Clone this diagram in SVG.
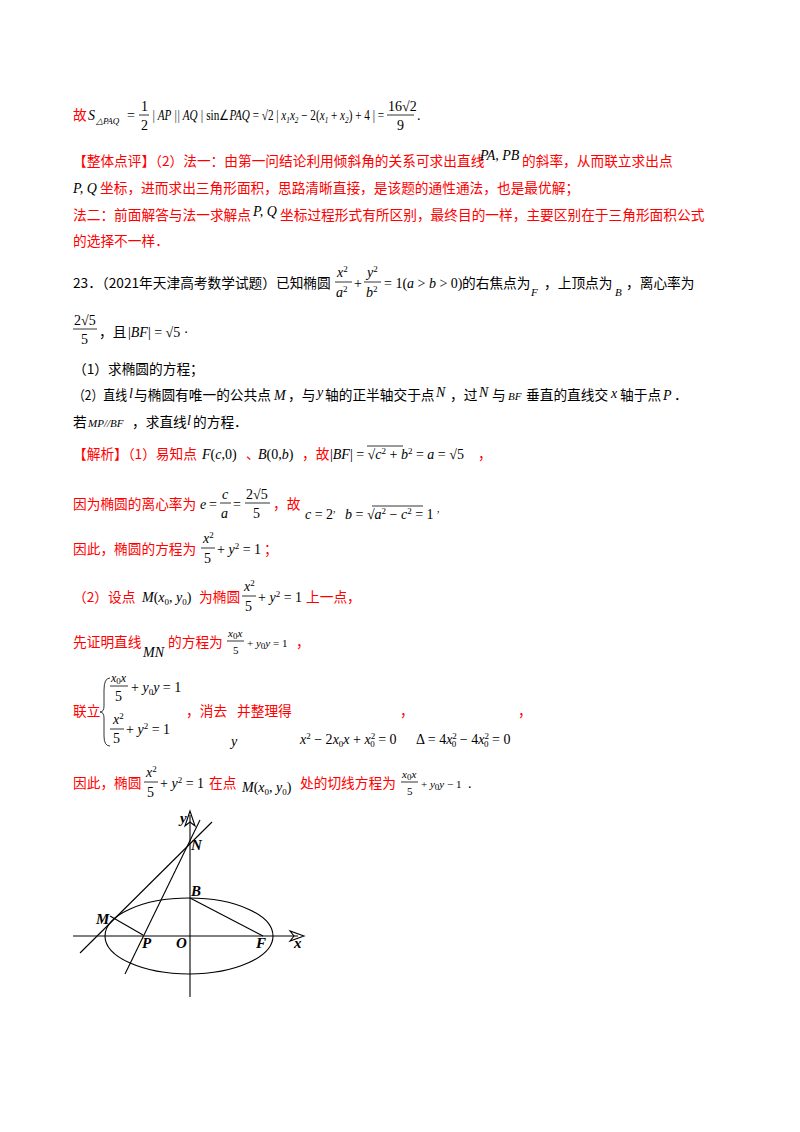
<svg xmlns="http://www.w3.org/2000/svg" width="800" height="1132" viewBox="0 0 800 1132">
<style>
text{font-family:"Noto Sans CJK SC","Liberation Serif",sans-serif;font-size:13.7px;fill:#000}
.r{fill:#ff0000}
.m{font-family:"Liberation Serif",serif;font-style:italic;font-size:14px}
.n{font-family:"Liberation Serif",serif;font-style:normal;font-size:14px}
.s{font-size:9px}
.fl{stroke:#000;stroke-width:0.8}
.g line,.g path,.g ellipse{stroke:#000;stroke-width:1.1;fill:none}
.lb{font-family:"Liberation Serif",serif;font-weight:bold;font-style:italic;font-size:15px}
</style>
<rect width="800" height="1132" fill="#fff"/>
<g id="text">
<text x="73" y="120" class="r">故</text>
<text x="88" y="120" class="m">S</text><text x="96" y="124" class="m s">△PAQ</text>
<text x="127" y="120" class="n">=</text>
<text x="141" y="111" class="n">1</text><line class="fl" x1="139" y1="115" x2="149" y2="115"/><text x="141" y="130" class="n">2</text>
<text x="152" y="120" class="m" textLength="232" lengthAdjust="spacingAndGlyphs">| AP || AQ | <tspan class="n">sin∠</tspan>PAQ <tspan class="n">= √2 |</tspan> x<tspan class="s" dy="3">1</tspan><tspan dy="-3">x</tspan><tspan class="s" dy="3">2</tspan><tspan class="n" dy="-3"> − 2(</tspan>x<tspan class="s" dy="3">1</tspan><tspan class="n" dy="-3"> + </tspan>x<tspan class="s" dy="3">2</tspan><tspan class="n" dy="-3">) + 4 | =</tspan></text>
<text x="388" y="111" class="n">16√2</text><line class="fl" x1="387" y1="115" x2="414" y2="115"/><text x="397" y="130" class="n">9</text>
<text x="417" y="120" class="n">.</text>
<text x="73" y="166" class="r">【整体点评】（2）法一：由第一问结论利用倾斜角的关系可求出直线</text>
<text x="480" y="160" class="m">PA, PB</text>
<text x="522" y="166" class="r">的斜率，从而联立求出点</text>
<text x="73" y="193" class="m">P, Q</text>
<text x="100" y="193" class="r">坐标，进而求出三角形面积，思路清晰直接，是该题的通性通法，也是最优解；</text>
<text x="73" y="220" class="r">法二：前面解答与法一求解点</text>
<text x="253" y="216" class="m">P, Q</text>
<text x="280" y="220" class="r">坐标过程形式有所区别，最终目的一样，主要区别在于三角形面积公式</text>
<text x="73" y="246" class="r">的选择不一样．</text>
<text x="73" y="288">23．（2021年天津高考数学试题）已知椭圆</text>
<text x="337" y="277" class="m">x<tspan class="s n" dy="-5">2</tspan></text><line class="fl" x1="335" y1="282" x2="352" y2="282"/><text x="336" y="297" class="m">a<tspan class="s n" dy="-5">2</tspan></text>
<text x="354" y="288" class="n">+</text>
<text x="367" y="277" class="m">y<tspan class="s n" dy="-5">2</tspan></text><line class="fl" x1="364" y1="282" x2="381" y2="282"/><text x="366" y="297" class="m">b<tspan class="s n" dy="-5">2</tspan></text>
<text x="384" y="288" class="n">= 1(<tspan class="m">a</tspan> &gt; <tspan class="m">b</tspan> &gt; 0)</text>
<text x="462" y="288">的右焦点为</text>
<text x="531" y="296" class="m" style="font-size:11px">F</text>
<text x="544" y="288">，上顶点为</text>
<text x="615" y="296" class="m" style="font-size:11px">B</text>
<text x="626" y="288">，离心率为</text>
<text x="74" y="325" class="n">2√5</text><line class="fl" x1="73" y1="329" x2="97" y2="329"/><text x="81" y="344" class="n">5</text>
<text x="99" y="337">，且</text>
<text x="128" y="337" class="n">|<tspan class="m">BF</tspan>| = √5 ·</text>
<text x="73" y="374">（1）求椭圆的方程；</text>
<text x="73" y="400" textLength="54" lengthAdjust="spacingAndGlyphs">（2）直线</text><text x="129" y="398" class="m">l</text><text x="134" y="400">与椭圆有唯一的公共点</text><text x="274" y="400" class="m">M</text><text x="288" y="400">，与</text><text x="317" y="397" class="m">y</text><text x="325" y="400">轴的正半轴交于点</text><text x="436" y="397" class="m">N</text><text x="450" y="400">，过</text><text x="479" y="397" class="m">N</text><text x="492" y="400">与</text><text x="508" y="400" class="m" style="font-size:11px">BF</text><text x="526" y="400">垂直的直线交</text><text x="611" y="398" class="m">x</text><text x="620" y="400">轴于点</text><text x="663" y="400" class="m">P</text><text x="674" y="400">．</text>
<text x="73" y="427">若</text><text x="88" y="427" class="m" style="font-size:11px">MP//BF</text><text x="132" y="427">，求直线</text><text x="187" y="425" class="m">l</text><text x="193" y="427">的方程．</text>
<text x="73" y="459" class="r">【解析】（1）易知点</text>
<text x="202" y="459" class="m">F<tspan class="n">(</tspan>c<tspan class="n">,0)</tspan></text>
<text x="246" y="459" class="r">、</text>
<text x="258" y="459" class="m">B<tspan class="n">(0,</tspan>b<tspan class="n">)</tspan></text>
<text x="302" y="459" class="r">，故</text>
<text x="330" y="459" class="n">|<tspan class="m">BF</tspan>| = √<tspan class="m">c</tspan><tspan class="s" dy="-5">2</tspan><tspan dy="5"> + </tspan><tspan class="m">b</tspan><tspan class="s" dy="-5">2</tspan><tspan dy="5"> = </tspan><tspan class="m">a</tspan> = √5</text>
<line class="fl" x1="367" y1="446" x2="403" y2="446"/>
<text x="478" y="459" class="r">，</text>
<text x="73" y="509" class="r">因为椭圆的离心率为</text>
<text x="200" y="509" class="m">e</text><text x="209" y="509" class="n">=</text>
<text x="222" y="499" class="m">c</text><line class="fl" x1="220" y1="503" x2="231" y2="503"/><text x="221" y="518" class="m">a</text>
<text x="233" y="509" class="n">=</text>
<text x="246" y="499" class="n">2√5</text><line class="fl" x1="245" y1="503" x2="270" y2="503"/><text x="253" y="518" class="n">5</text>
<text x="273" y="509" class="r">，故</text>
<text x="305" y="519" class="m">c<tspan class="n"> = 2</tspan></text><text x="333" y="512" class="n" style="font-size:10px">,</text>
<text x="345" y="519" class="m">b<tspan class="n"> = √</tspan>a<tspan class="n s" dy="-5">2</tspan><tspan class="n" dy="5"> − </tspan>c<tspan class="n s" dy="-5">2</tspan><tspan class="n" dy="5"> = 1</tspan></text>
<line class="fl" x1="372" y1="506" x2="423" y2="506"/>
<text x="437" y="512" class="n" style="font-size:10px">,</text>
<text x="73" y="554" class="r">因此，椭圆的方程为</text>
<text x="203" y="543" class="m">x<tspan class="s n" dy="-5">2</tspan></text><line class="fl" x1="201" y1="548" x2="215" y2="548"/><text x="204" y="563" class="n">5</text>
<text x="217" y="554" class="n">+ <tspan class="m">y</tspan><tspan class="s" dy="-5">2</tspan><tspan dy="5"> = 1</tspan></text>
<text x="264" y="554" class="r">；</text>
<text x="73" y="602" class="r">（2）设点</text>
<text x="142" y="602" class="m">M<tspan class="n">(</tspan>x<tspan class="n s" dy="3">0</tspan><tspan class="n" dy="-3">, </tspan>y<tspan class="n s" dy="3">0</tspan><tspan class="n" dy="-3">)</tspan></text>
<text x="199" y="602" class="r">为椭圆</text>
<text x="244" y="591" class="m">x<tspan class="s n" dy="-5">2</tspan></text><line class="fl" x1="242" y1="596" x2="256" y2="596"/><text x="245" y="611" class="n">5</text>
<text x="258" y="602" class="n">+ <tspan class="m">y</tspan><tspan class="s" dy="-5">2</tspan><tspan dy="5"> = 1</tspan></text>
<text x="306" y="602" class="r">上一点，</text>
<text x="73" y="647" class="r">先证明直线</text>
<text x="143" y="657" class="m">MN</text>
<text x="168" y="647" class="r">的方程为</text>
<text x="228" y="637" class="m" style="font-size:11px">x<tspan class="n s" dy="2">0</tspan><tspan dy="-2">x</tspan></text><line class="fl" x1="227" y1="641" x2="244" y2="641"/><text x="233" y="654" class="n" style="font-size:11px">5</text>
<text x="247" y="647" class="m" style="font-size:11px"><tspan class="n" style="font-size:11px">+ </tspan>y<tspan class="n s" dy="2">0</tspan><tspan dy="-2">y</tspan><tspan class="n" style="font-size:11px"> = 1</tspan></text>
<text x="296" y="647" class="r">，</text>
<text x="73" y="716" class="r">联立</text>
<path d="M110,678 Q104,678 104,690 L104,706 Q104,712 100,712 Q104,712 104,718 L104,736 Q104,746 110,746" fill="none" stroke="#000" stroke-width="0.8"/>
<text x="111" y="682" class="m" style="font-size:12px">x<tspan class="n s" dy="2">0</tspan><tspan dy="-2">x</tspan></text><line class="fl" x1="110" y1="686" x2="128" y2="686"/><text x="115" y="701" class="n">5</text>
<text x="131" y="692" class="n">+ <tspan class="m">y</tspan><tspan class="s" dy="3">0</tspan><tspan class="m" dy="-3">y</tspan> = 1</text>
<text x="113" y="724" class="m">x<tspan class="s n" dy="-5">2</tspan></text><line class="fl" x1="110" y1="729" x2="124" y2="729"/><text x="113" y="743" class="n">5</text>
<text x="126" y="734" class="n">+ <tspan class="m">y</tspan><tspan class="s" dy="-5">2</tspan><tspan dy="5"> = 1</tspan></text>
<text x="186" y="716" class="r">，消去</text><text x="237" y="716" class="r">并整理得</text>
<text x="400" y="716" class="r">，</text><text x="518" y="716" class="r">，</text>
<text x="231" y="746" class="m">y</text>
<text x="300" y="744" class="m">x<tspan class="n s" dy="-5">2</tspan><tspan class="n" dy="5"> − 2</tspan>x<tspan class="n s" dy="3">0</tspan><tspan dy="-3">x</tspan><tspan class="n"> + </tspan>x<tspan class="n s" dy="-5">2</tspan><tspan class="n s" dx="-5" dy="8">0</tspan><tspan class="n" dy="-3"> = 0</tspan></text>
<text x="416" y="744" class="n">Δ = 4<tspan class="m">x</tspan><tspan class="s" dy="-5">2</tspan><tspan class="s" dx="-5" dy="8">0</tspan><tspan dy="-3"> − 4</tspan><tspan class="m">x</tspan><tspan class="s" dy="-5">2</tspan><tspan class="s" dx="-5" dy="8">0</tspan><tspan dy="-3"> = 0</tspan></text>
<text x="73" y="788" class="r">因此，椭圆</text>
<text x="146" y="777" class="m">x<tspan class="s n" dy="-5">2</tspan></text><line class="fl" x1="144" y1="782" x2="158" y2="782"/><text x="147" y="797" class="n">5</text>
<text x="160" y="788" class="n">+ <tspan class="m">y</tspan><tspan class="s" dy="-5">2</tspan><tspan dy="5"> = 1</tspan></text>
<text x="209" y="788" class="r">在点</text>
<text x="242" y="792" class="m">M<tspan class="n">(</tspan>x<tspan class="n s" dy="3">0</tspan><tspan class="n" dy="-3">, </tspan>y<tspan class="n s" dy="3">0</tspan><tspan class="n" dy="-3">)</tspan></text>
<text x="300" y="788" class="r">处的切线方程为</text>
<text x="402" y="778" class="m" style="font-size:11px">x<tspan class="n s" dy="2">0</tspan><tspan dy="-2">x</tspan></text><line class="fl" x1="401" y1="782" x2="418" y2="782"/><text x="407" y="795" class="n" style="font-size:11px">5</text>
<text x="421" y="788" class="m" style="font-size:11px"><tspan class="n" style="font-size:11px">+ </tspan>y<tspan class="n s" dy="2">0</tspan><tspan dy="-2">y</tspan><tspan class="n" style="font-size:11px"> − 1</tspan></text>
<text x="468" y="788" class="n">.</text>
</g>
<g id="figure" class="g">
<ellipse cx="189" cy="936" rx="84" ry="38"/>
<line x1="73" y1="936" x2="298" y2="936"/>
<line x1="190" y1="997" x2="190" y2="815"/>
<path d="M304,936 L290,931 L294,936 L290,941 Z" fill="#000" stroke="none"/>
<path d="M190,811 L185,826 L190,822 L195,826 Z" fill="#000" stroke="none"/>
<line x1="80" y1="953" x2="212" y2="822"/>
<line x1="125" y1="974" x2="200" y2="820"/>
<line x1="110" y1="916" x2="143" y2="935"/>
<line x1="190" y1="898" x2="263" y2="936"/>
</g>
<g id="labels">
<text x="180" y="823" class="lb">y</text>
<text x="191" y="850" class="lb">N</text>
<text x="191" y="896" class="lb">B</text>
<text x="96" y="924" class="lb">M</text>
<text x="142" y="948" class="lb">P</text>
<text x="176" y="948" class="lb">O</text>
<text x="256" y="948" class="lb">F</text>
<text x="294" y="948" class="lb">x</text>
</g>
</svg>
